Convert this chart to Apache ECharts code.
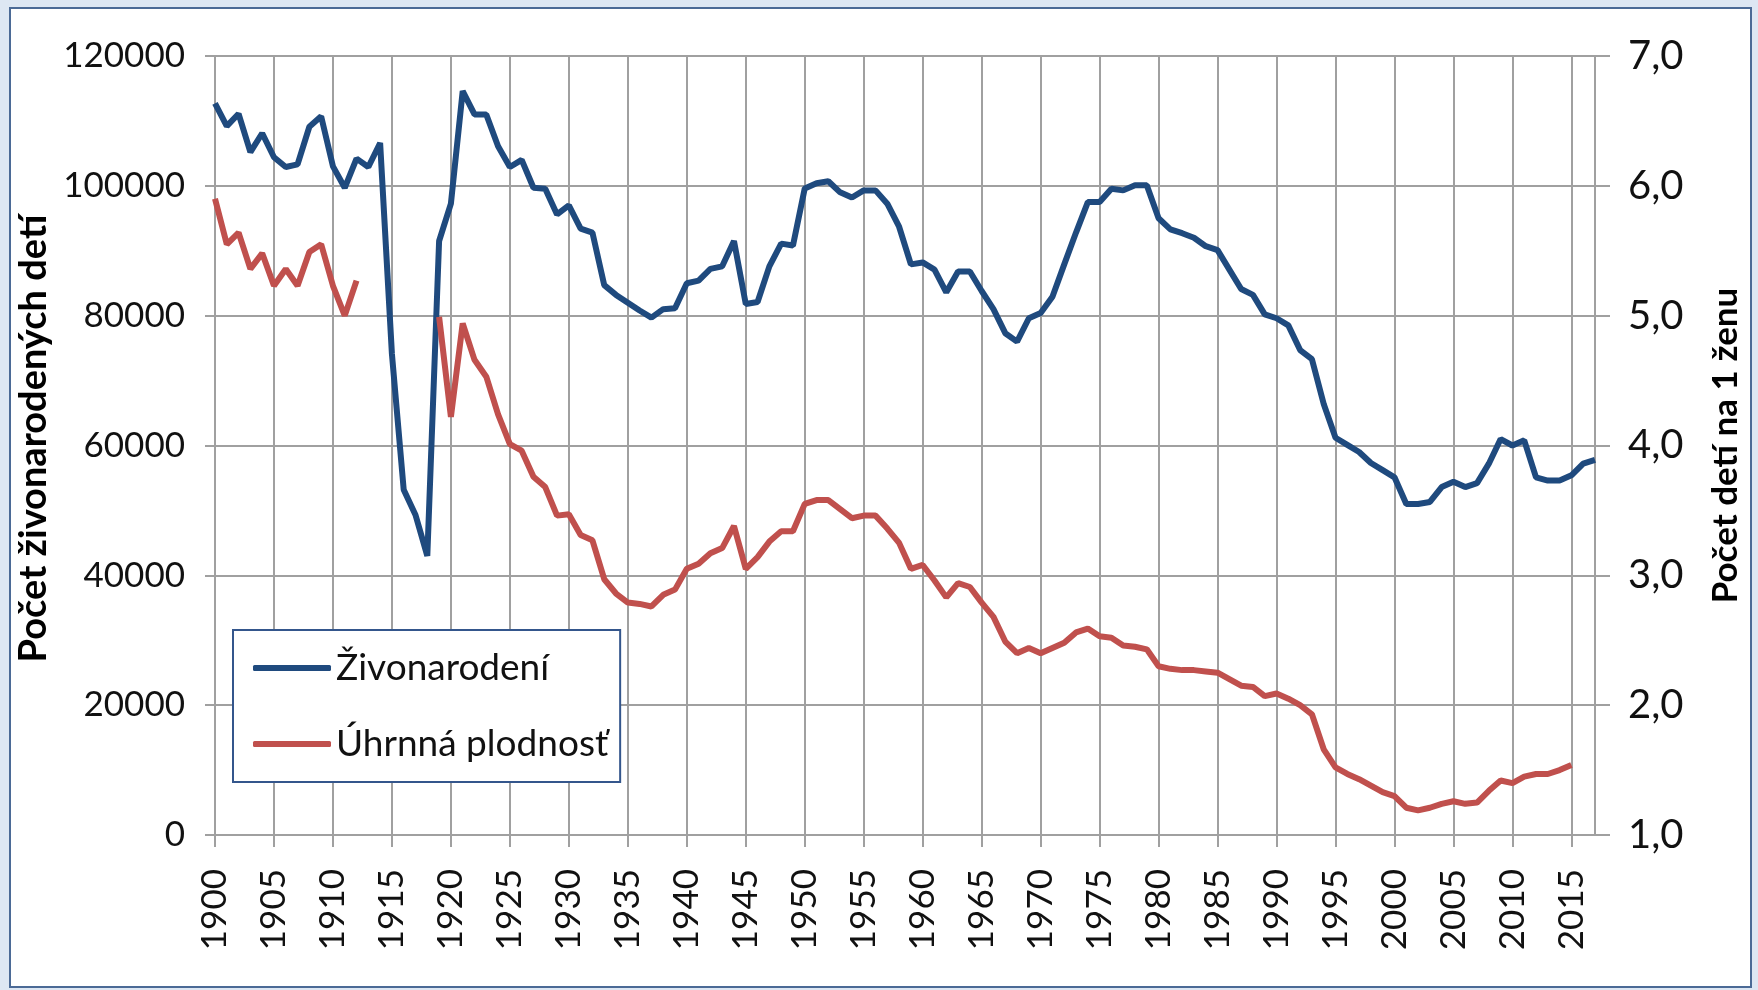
<!DOCTYPE html>
<html lang="sk">
<head>
    <meta charset="UTF-8">
    <script src="https://cdn.jsdelivr.net/npm/echarts@6/dist/echarts.min.js"></script>
    <title>Živonarodení a úhrnná plodnosť</title>
</head>
<body style="margin:0; background:#dde7f3;">
<div id="container" style="width:1758px; height:990px;"></div>
<script>
    // roky 1900 - 2017
    let years = [];
    for (let y = 1900; y <= 2017; y++) years.push(String(y));

    // počet živonarodených detí (odčítané z grafu)
    let births = [
        112700, 109200, 111100, 105200, 108100, 104400, 102900, 103300, 109100, 110700,
        103000, 99700, 104200, 102900, 106600, 74100, 53200, 49300, 43000, 91500,
        97250, 114600, 111000, 111000, 106100, 102900, 104000, 99700, 99550, 95600,
        97000, 93400, 92800, 84700, 83200, 82000, 80800, 79700, 81000, 81150,
        85000, 85400, 87200, 87600, 91500, 81800, 82100, 87600, 91100, 90800,
        99600, 100400, 100700, 99000, 98200, 99300, 99300, 97250, 93700, 87900,
        88200, 87100, 83600, 86800, 86800, 83800, 81000, 77300, 76000, 79600,
        80400, 82900, 87900, 92800, 97500, 97500, 99550, 99300, 100100, 100100,
        95000, 93300, 92700, 92000, 90700, 90100, 87100, 84100, 83200, 80200,
        79600, 78500, 74700, 73300, 66400, 61200, 60100, 59000, 57300, 56200,
        55100, 51000, 51000, 51300, 53600, 54400, 53600, 54200, 57200, 61000,
        60000, 60800, 55100, 54600, 54600, 55400, 57200, 57800
    ];

    // úhrnná plodnosť (deti na 1 ženu), 1913-1918 a 2016-2017 chýbajú
    let fertility = [
        5.90, 5.55, 5.64, 5.36, 5.48, 5.23, 5.36, 5.23, 5.49, 5.55,
        5.23, 5.00, 5.27, null, null, null, null, null, null, 4.99,
        4.22, 4.94, 4.66, 4.53, 4.24, 4.01, 3.96, 3.76, 3.68, 3.46,
        3.47, 3.31, 3.27, 2.97, 2.86, 2.79, 2.78, 2.76, 2.85, 2.89,
        3.05, 3.09, 3.17, 3.21, 3.38, 3.05, 3.14, 3.26, 3.34, 3.34,
        3.55, 3.58, 3.58, 3.51, 3.44, 3.46, 3.46, 3.36, 3.25, 3.05,
        3.08, 2.96, 2.83, 2.94, 2.91, 2.79, 2.68, 2.49, 2.40, 2.44,
        2.40, 2.44, 2.48, 2.56, 2.59, 2.53, 2.52, 2.46, 2.45, 2.43,
        2.30, 2.28, 2.27, 2.27, 2.26, 2.25, 2.20, 2.15, 2.14, 2.07,
        2.09, 2.05, 2.00, 1.93, 1.66, 1.52, 1.47, 1.43, 1.38, 1.33,
        1.30, 1.21, 1.19, 1.21, 1.24, 1.26, 1.24, 1.25, 1.34, 1.42,
        1.40, 1.45, 1.47, 1.47, 1.50, 1.54, null, null
    ];

    let seriesNames = ['Živonarodení', 'Úhrnná plodnosť'];

    let dom = document.getElementById('container');
    let myChart = echarts.init(dom);
    let gridColor = '#a0a0a0';

    let option = {
        backgroundColor: '#dde7f3',
        animation: false,
        graphic: [{
            type: 'rect',
            z: -10,
            silent: true,
            shape: {x: 10, y: 8, width: 1741, height: 979},
            style: {fill: '#ffffff', stroke: '#4b6a96', lineWidth: 2}
        }],
        grid: {left: 215, right: 163, top: 56, bottom: 155},
        legend: {
            orient: 'vertical',
            left: 233,
            top: 630,
            data: seriesNames,
            icon: 'roundRect',
            itemWidth: 78,
            itemHeight: 6,
            itemGap: 36,
            padding: [18, 12, 18, 20],
            backgroundColor: '#ffffff',
            borderColor: '#34568c',
            borderWidth: 2,
            textStyle: {fontFamily: 'Lato', fontSize: 37, color: '#111', lineHeight: 40}
        },
        xAxis: {
            type: 'category',
            data: years,
            boundaryGap: false,
            axisLine: {lineStyle: {color: gridColor, width: 2}},
            axisTick: {show: true, interval: 4, length: 12, lineStyle: {color: gridColor, width: 2}},
            axisLabel: {
                interval: 4, rotate: 90, margin: 34,
                fontFamily: 'Lato', fontSize: 35, color: '#111'
            },
            splitLine: {show: true, interval: 4, lineStyle: {color: gridColor, width: 2}}
        },
        yAxis: [{
            type: 'value',
            min: 0, max: 120000, interval: 20000,
            name: 'Počet živonarodených detí',
            nameLocation: 'middle',
            nameRotate: 90,
            nameGap: 129,
            nameTextStyle: {fontFamily: 'Lato', fontWeight: 'bold', fontSize: 38, color: '#000', padding: [0, 0, 0, 14]},
            axisLine: {show: true, lineStyle: {color: gridColor, width: 2}},
            axisTick: {show: true, length: 10, lineStyle: {color: gridColor, width: 2}},
            axisLabel: {
                margin: 30, fontFamily: 'Lato', fontSize: 35, color: '#111',
                formatter: function (v) { return String(v); }
            },
            splitLine: {show: true, lineStyle: {color: gridColor, width: 2}}
        }, {
            type: 'value',
            position: 'right',
            min: 1, max: 7, interval: 1,
            name: 'Počet detí na 1 ženu',
            nameLocation: 'middle',
            nameRotate: 90,
            nameGap: 113,
            nameTextStyle: {fontFamily: 'Lato', fontWeight: 'bold', fontSize: 35, color: '#000'},
            axisLine: {show: true, lineStyle: {color: gridColor, width: 2}},
            axisTick: {show: true, length: 15, lineStyle: {color: gridColor, width: 2}},
            axisLabel: {
                margin: 33, fontFamily: 'Lato', fontSize: 40, color: '#111',
                formatter: function (v) { return v.toFixed(1).replace('.', ','); }
            },
            splitLine: {show: false}
        }],
        series: [{
            name: seriesNames[0],
            type: 'line',
            data: births,
            yAxisIndex: 0,
            symbol: 'none',
            lineStyle: {color: '#1f4a7e', width: 6},
            itemStyle: {color: '#1f4a7e'}
        }, {
            name: seriesNames[1],
            type: 'line',
            data: fertility,
            yAxisIndex: 1,
            symbol: 'none',
            connectNulls: false,
            lineStyle: {color: '#c0504d', width: 6},
            itemStyle: {color: '#c0504d'}
        }]
    };

    myChart.setOption(option);
</script>
</body>
</html>
